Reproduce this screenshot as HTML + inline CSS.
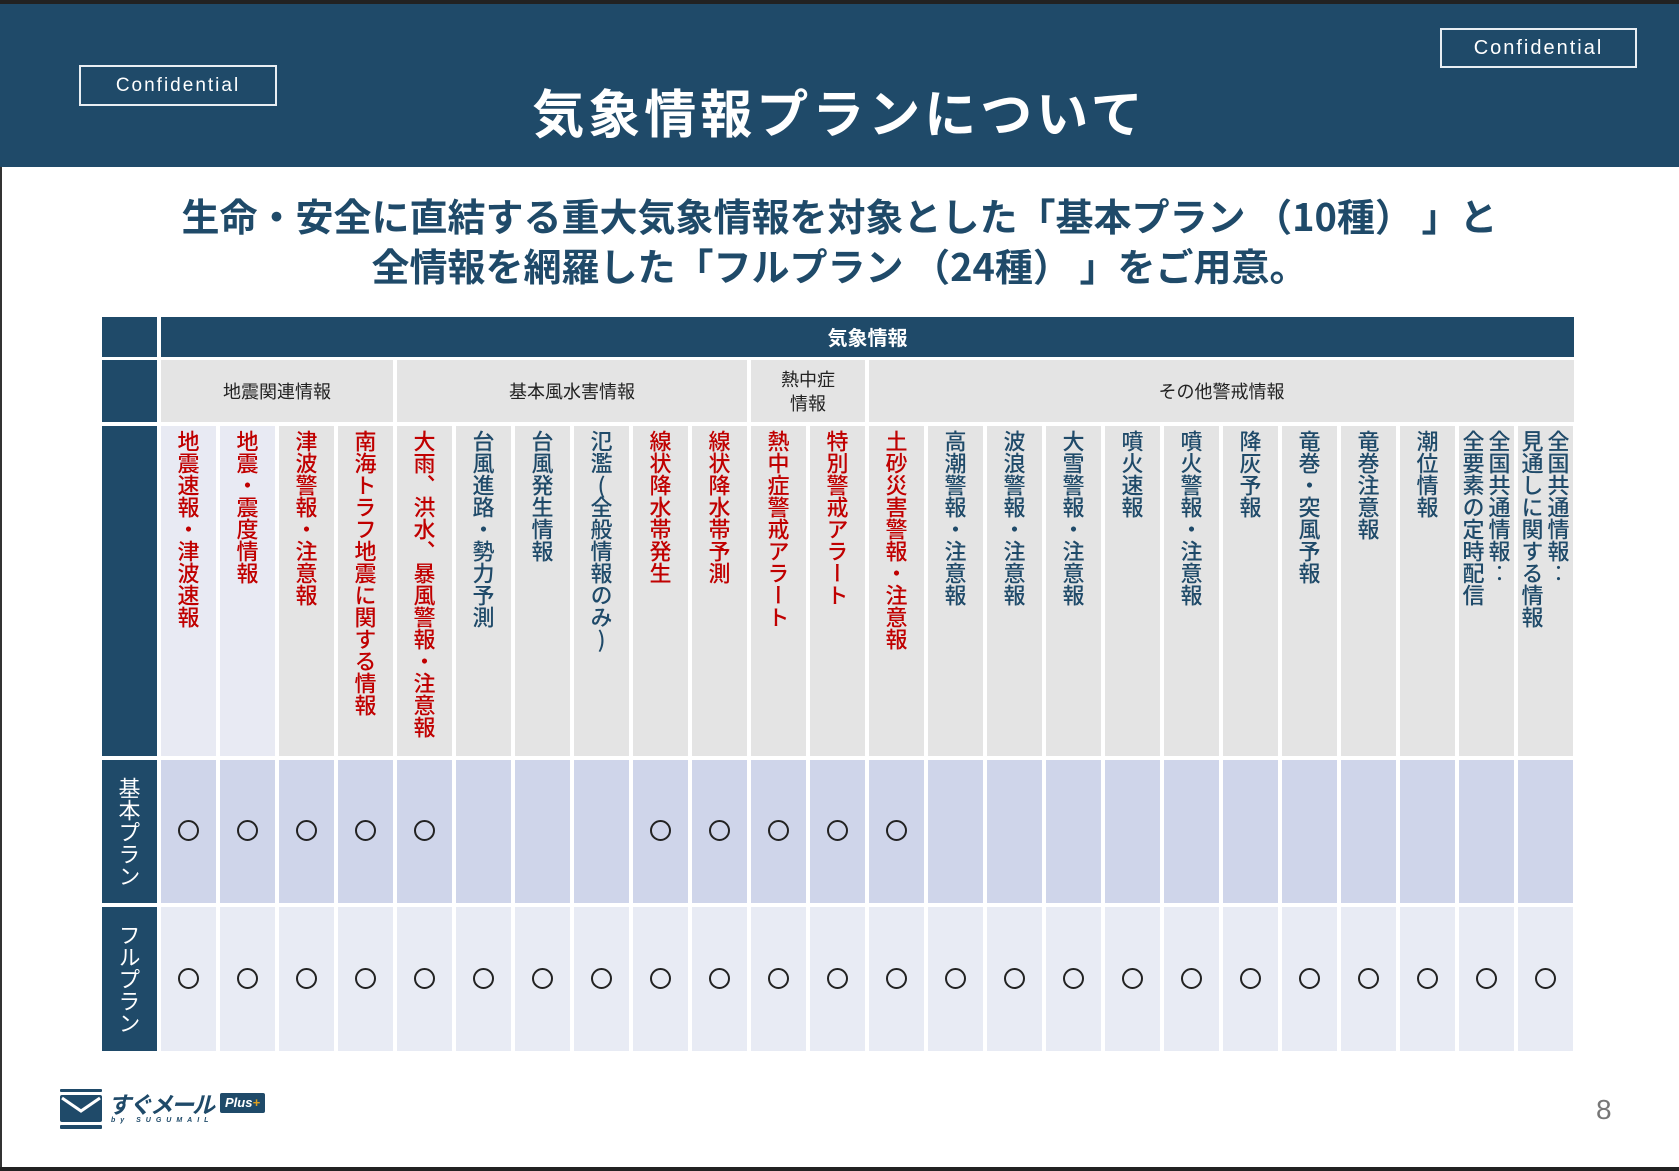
<!DOCTYPE html>
<html><head><meta charset="utf-8"><style>
*{margin:0;padding:0;box-sizing:border-box}
body{width:1679px;height:1171px;position:relative;background:#fff;overflow:hidden;font-family:"Liberation Sans","Noto Sans CJK JP",sans-serif}
.a{position:absolute}
.hd{left:0;top:0;width:1679px;height:167px;background:#1f4a69;border-top:4px solid #222}
.conf{border:2px solid #e8eef3;color:#fff;font-size:20px;letter-spacing:2px;text-align:center;font-family:"Liberation Sans",sans-serif}
.title{left:0;width:1679px;top:73px;text-align:center;color:#fff;font-size:52px;font-weight:bold;letter-spacing:4px;font-family:"Noto Sans CJK JP",sans-serif}
.sub{left:0;width:1679px;text-align:center;color:#1f4a69;font-size:38px;font-weight:bold;font-family:"Noto Sans CJK JP",sans-serif}
.nv{background:#1f4a69}
.gh{background:#e4e4e4;color:#222;font-size:18px;font-family:"Noto Sans CJK JP",sans-serif;display:flex;align-items:center;justify-content:center;text-align:center;line-height:24px}
.col{top:426px;width:55px;height:330px;background:#e4e4e4}
.col.l{background:#e8eaf3}
.vt{writing-mode:vertical-rl;text-orientation:upright;font-family:"Noto Sans CJK JP",sans-serif;font-size:22px;font-weight:500;line-height:26px;position:absolute;top:4px;left:0;right:0;margin:0 auto;color:#c00000;height:320px;display:block;width:26px}
.vt.b{color:#1f4a69}
.vt.two{width:52px;line-height:26px}
.b1{top:760px;width:55px;height:143px;background:#cfd5ea}
.b2{top:907px;width:55px;height:144px;background:#e8ebf4}
.c{position:absolute;left:17px;width:21px;height:21px;border:2px solid #222;border-radius:50%}
.rh{color:#fff;writing-mode:vertical-rl;text-orientation:upright;font-size:22px;font-family:"Noto Sans CJK JP",sans-serif;display:flex;align-items:center;justify-content:center}
</style></head><body>
<div class="a" style="left:0;top:0;width:2px;height:1171px;background:#333"></div>
<div class="a hd"></div>
<div class="a conf" style="left:79px;top:65px;width:198px;height:41px;line-height:37px;font-size:19px;letter-spacing:2px">Confidential</div>
<div class="a conf" style="left:1440px;top:28px;width:197px;height:40px;line-height:36px">Confidential</div>
<div class="a title">気象情報プランについて</div>
<div class="a sub" style="top:187px">生命・安全に直結する重大気象情報を対象とした「基本プラン （10種） 」と</div>
<div class="a sub" style="top:237px">全情報を網羅した「フルプラン （24種） 」をご用意。</div>

<div class="a nv" style="left:102px;top:317px;width:55px;height:40px"></div>
<div class="a nv" style="left:161px;top:317px;width:1413px;height:40px;color:#fff;font-weight:bold;font-size:20px;text-align:center;line-height:40px;font-family:'Noto Sans CJK JP',sans-serif">気象情報</div>
<div class="a nv" style="left:102px;top:360px;width:55px;height:62px"></div>
<div class="a nv" style="left:102px;top:426px;width:55px;height:330px"></div>
<div class="a nv rh" style="left:102px;top:760px;width:55px;height:143px">基本プラン</div>
<div class="a nv rh" style="left:102px;top:907px;width:55px;height:144px">フルプラン</div>

<div class="a gh" style="left:161px;top:360px;width:232px;height:62px">地震関連情報</div>
<div class="a gh" style="left:397px;top:360px;width:350px;height:62px">基本風水害情報</div>
<div class="a gh" style="left:751px;top:360px;width:114px;height:62px">熱中症<br>情報</div>
<div class="a gh" style="left:869px;top:360px;width:705px;height:62px">その他警戒情報</div>

<div id="cols"></div>
<script>
var t=[["地震速報・津波速報",0,1],["地震・震度情報",0,1],["津波警報・注意報",0,0],["南海トラフ地震に関する情報",0,0],["大雨、洪水、暴風警報・注意報",0,0],["台風進路・勢力予測",1,0],["台風発生情報",1,0],["氾濫(全般情報のみ)",1,0],["線状降水帯発生",0,0],["線状降水帯予測",0,0],["熱中症警戒アラート",0,0],["特別警戒アラート",0,0],["土砂災害警報・注意報",0,0],["高潮警報・注意報",1,0],["波浪警報・注意報",1,0],["大雪警報・注意報",1,0],["噴火速報",1,0],["噴火警報・注意報",1,0],["降灰予報",1,0],["竜巻・突風予報",1,0],["竜巻注意報",1,0],["潮位情報",1,0],["全国共通情報‥<br>全要素の定時配信",1,0,1],["全国共通情報‥<br>見通しに関する情報",1,0,1]];
var basic=[1,1,1,1,1,0,0,0,1,1,1,1,1,0,0,0,0,0,0,0,0,0,0,0];
var h="";
for(var i=0;i<24;i++){var x=161+i*59;
h+='<div class="a col'+(t[i][2]?' l':'')+'" style="left:'+x+'px"><div class="vt'+(t[i][1]?' b':'')+(t[i][3]?' two':'')+'">'+t[i][0]+'</div></div>';
h+='<div class="a b1" style="left:'+x+'px">'+(basic[i]?'<div class="c" style="top:60px"></div>':'')+'</div>';
h+='<div class="a b2" style="left:'+x+'px"><div class="c" style="top:61px"></div></div>';}
document.getElementById("cols").innerHTML=h;
</script>

<svg class="a" style="left:60px;top:1089px" width="44" height="41"><rect x="0" y="0" width="42" height="3" rx="1" fill="#1f4a69"/><rect x="0" y="6" width="42" height="27" rx="2" fill="#1f4a69"/><polyline points="2,9 21,22 40,9" fill="none" stroke="#fff" stroke-width="3"/><rect x="0" y="36" width="42" height="4" rx="1" fill="#1f4a69"/></svg>
<div class="a" style="left:108px;top:1088px;font-size:23px;font-weight:bold;font-style:italic;color:#1f4a69;font-family:'Noto Sans CJK JP',sans-serif;line-height:30px;letter-spacing:-2px">すぐメール</div>
<div class="a" style="left:220px;top:1093px;width:45px;height:20px;background:#1f4a69;border-radius:2px;color:#fff;font-size:13px;font-weight:bold;font-style:italic;text-align:center;line-height:20px">Plus<span style="color:#e0a020">+</span></div>
<div class="a" style="left:111px;top:1117px;font-size:7px;font-weight:bold;letter-spacing:5px;color:#1f4a69;font-style:italic">by SUGUMAIL</div>
<div class="a" style="left:1596px;top:1094px;font-size:28px;color:#777">8</div>
<div class="a" style="left:0;top:1167px;width:1679px;height:4px;background:#222"></div>
</body></html>
